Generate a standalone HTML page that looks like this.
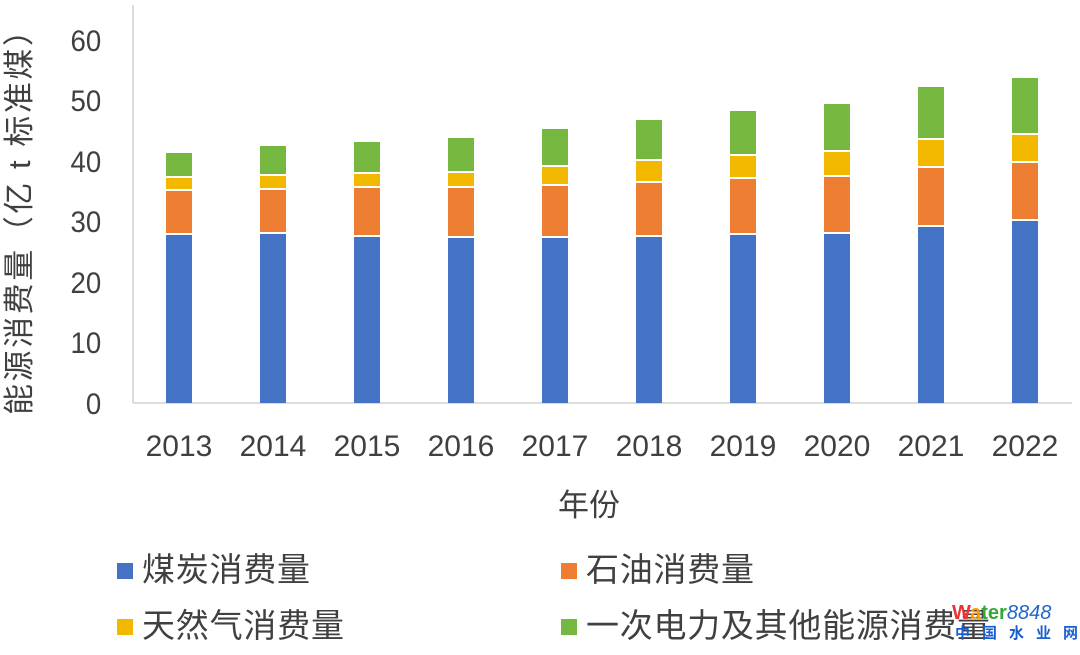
<!DOCTYPE html>
<html><head><meta charset="utf-8"><style>
body{margin:0;background:#fff}
svg text{font-family:"Liberation Sans","Noto Sans CJK SC",sans-serif;fill:#404040}
</style></head><body>
<svg width="1080" height="650" xmlns="http://www.w3.org/2000/svg">
<line x1="133" y1="5" x2="133" y2="403" stroke="#d0d0d0" stroke-width="1.5"/>
<line x1="133" y1="403" x2="1072" y2="403" stroke="#d0d0d0" stroke-width="1.5"/>
<g font-size="30" text-anchor="end" transform="scale(0.92,1)">
<text x="110" y="414">0</text>
<text x="110" y="353">10</text>
<text x="110" y="293">20</text>
<text x="110" y="232">30</text>
<text x="110" y="172">40</text>
<text x="110" y="111">50</text>
<text x="110" y="51">60</text>
</g>
<text transform="translate(30,215) rotate(-90)" font-size="31" text-anchor="middle" textLength="400" lengthAdjust="spacing">能源消费量（亿 t 标准煤）</text>
<g>
<rect x="166" y="235" width="26" height="168" fill="#4472c4"/><rect x="166" y="191" width="26" height="42" fill="#ed7d31"/><rect x="166" y="178" width="26" height="11" fill="#f2b800"/><rect x="166" y="153" width="26" height="23" fill="#76b83f"/>
<rect x="260" y="234" width="26" height="169" fill="#4472c4"/><rect x="260" y="190" width="26" height="42" fill="#ed7d31"/><rect x="260" y="176" width="26" height="12" fill="#f2b800"/><rect x="260" y="146" width="26" height="28" fill="#76b83f"/>
<rect x="354" y="237" width="26" height="166" fill="#4472c4"/><rect x="354" y="188" width="26" height="47" fill="#ed7d31"/><rect x="354" y="174" width="26" height="12" fill="#f2b800"/><rect x="354" y="142" width="26" height="30" fill="#76b83f"/>
<rect x="448" y="238" width="26" height="165" fill="#4472c4"/><rect x="448" y="188" width="26" height="48" fill="#ed7d31"/><rect x="448" y="173" width="26" height="13" fill="#f2b800"/><rect x="448" y="138" width="26" height="33" fill="#76b83f"/>
<rect x="542" y="238" width="26" height="165" fill="#4472c4"/><rect x="542" y="186" width="26" height="50" fill="#ed7d31"/><rect x="542" y="167" width="26" height="17" fill="#f2b800"/><rect x="542" y="129" width="26" height="36" fill="#76b83f"/>
<rect x="636" y="237" width="26" height="166" fill="#4472c4"/><rect x="636" y="183" width="26" height="52" fill="#ed7d31"/><rect x="636" y="161" width="26" height="20" fill="#f2b800"/><rect x="636" y="120" width="26" height="39" fill="#76b83f"/>
<rect x="730" y="235" width="26" height="168" fill="#4472c4"/><rect x="730" y="179" width="26" height="54" fill="#ed7d31"/><rect x="730" y="156" width="26" height="21" fill="#f2b800"/><rect x="730" y="111" width="26" height="43" fill="#76b83f"/>
<rect x="824" y="234" width="26" height="169" fill="#4472c4"/><rect x="824" y="177" width="26" height="55" fill="#ed7d31"/><rect x="824" y="152" width="26" height="23" fill="#f2b800"/><rect x="824" y="104" width="26" height="46" fill="#76b83f"/>
<rect x="918" y="227" width="26" height="176" fill="#4472c4"/><rect x="918" y="168" width="26" height="57" fill="#ed7d31"/><rect x="918" y="140" width="26" height="26" fill="#f2b800"/><rect x="918" y="87" width="26" height="51" fill="#76b83f"/>
<rect x="1012" y="221" width="26" height="182" fill="#4472c4"/><rect x="1012" y="163" width="26" height="56" fill="#ed7d31"/><rect x="1012" y="135" width="26" height="26" fill="#f2b800"/><rect x="1012" y="78" width="26" height="55" fill="#76b83f"/>
</g>
<g font-size="30" text-anchor="middle">
<text x="179" y="456">2013</text><text x="273" y="456">2014</text><text x="367" y="456">2015</text>
<text x="461" y="456">2016</text><text x="555" y="456">2017</text><text x="649" y="456">2018</text>
<text x="743" y="456">2019</text><text x="837" y="456">2020</text><text x="931" y="456">2021</text>
<text x="1025" y="456">2022</text>
<text x="589" y="516" font-size="31">年份</text>
</g>
<rect x="117" y="563" width="16" height="16" fill="#4472c4"/><text x="142" y="581" font-size="33" textLength="168" lengthAdjust="spacing">煤炭消费量</text>
<rect x="561" y="563" width="16" height="16" fill="#ed7d31"/><text x="586" y="581" font-size="33" textLength="168" lengthAdjust="spacing">石油消费量</text>
<rect x="117" y="619" width="16" height="16" fill="#f2b800"/><text x="142" y="637" font-size="33" textLength="202" lengthAdjust="spacing">天然气消费量</text>
<rect x="561" y="619" width="16" height="16" fill="#76b83f"/><text x="586" y="637" font-size="33" textLength="404" lengthAdjust="spacing">一次电力及其他能源消费量</text>
<text x="952" y="619" font-size="20" font-weight="bold" style="fill:#e33">W<tspan style="fill:#f90">a</tspan><tspan style="fill:#3a3">ter</tspan><tspan style="fill:#2266cc;font-style:italic;font-weight:normal">8848</tspan></text>
<text x="955" y="638" font-size="15" font-weight="bold" style="fill:#1a5fd0;letter-spacing:12px">中国水业网</text>
</svg>
</body></html>
